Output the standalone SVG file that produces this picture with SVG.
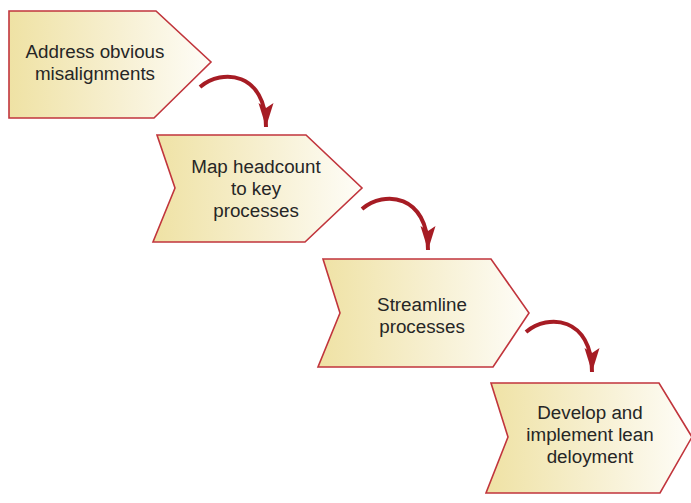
<svg xmlns="http://www.w3.org/2000/svg" width="691" height="503" viewBox="0 0 691 503">
<style>
.box{fill:url(#g);stroke:#c1353c;stroke-width:1.6;stroke-linejoin:miter}
.t{font-family:"Liberation Sans",Arial,sans-serif;font-size:18.8px;fill:#262626;text-anchor:middle}
.arr{fill:none;stroke:#a61c24;stroke-width:4;stroke-linecap:butt;marker-end:url(#ah)}
</style>
<defs>
<linearGradient id="g" x1="0" y1="0" x2="1" y2="0">
<stop offset="0" stop-color="#efe2a4"/>
<stop offset="0.55" stop-color="#f7f0d2"/>
<stop offset="1" stop-color="#fefdf8"/>
</linearGradient>
<marker id="ah" markerUnits="userSpaceOnUse" viewBox="-26 -9 28 18" refX="0" refY="0" markerWidth="28" markerHeight="18" orient="auto">
<path d="M0,0 L-24,-7.5 L-19,0 L-24,7.5 Z" fill="#a61c24"/>
</marker>
</defs>
<g id="connectors">
<path class="arr" d="M200,87 C222,68 266,72 266,127"/>
<path class="arr" d="M362,209 C384,190 428,194 428,250"/>
<path class="arr" d="M526,332 C548,313 592,317 592,372"/>
</g>
<g id="n1">
<polygon class="box" points="9,11 156,11 211,62 154,118 9,118"/>
<text class="t" x="95" y="58">Address obvious</text>
<text class="t" x="95" y="80">misalignments</text>
</g>
<g id="n2">
<polygon class="box" points="157,135 306,135 362,188 305,242 153,242 175,188"/>
<text class="t" x="256" y="173">Map headcount</text>
<text class="t" x="256" y="195">to key</text>
<text class="t" x="256" y="217">processes</text>
</g>
<g id="n3">
<polygon class="box" points="323,259 491,259 529,313 493,367 318,367 340,313"/>
<text class="t" x="422" y="311">Streamline</text>
<text class="t" x="422" y="333">processes</text>
</g>
<g id="n4">
<polygon class="box" points="491,383 659,383 692,437 660,493 486,493 508,437"/>
<text class="t" x="590" y="419">Develop and</text>
<text class="t" x="590" y="441">implement lean</text>
<text class="t" x="590" y="463">deloyment</text>
</g>
</svg>
